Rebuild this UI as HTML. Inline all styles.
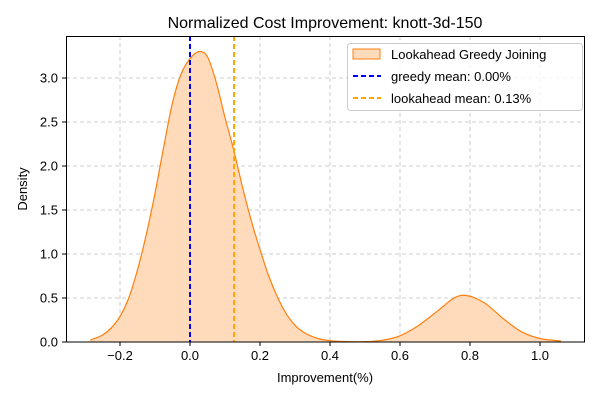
<!DOCTYPE html>
<html><head><meta charset="utf-8"><style>
body{margin:0;background:#fff}
svg text{font-family:"Liberation Sans","DejaVu Sans",sans-serif;fill:#000}
</style></head><body>
<svg id="chart" width="600" height="400" xmlns="http://www.w3.org/2000/svg">
<rect width="600" height="400" fill="#fff"/>
<text x="325" y="28" font-size="16" text-anchor="middle">Normalized Cost Improvement: knott-3d-150</text>
<g id="grid"></g>
<path id="area" fill="#ffdbbc" stroke="none"/>
<path id="line" fill="none" stroke="#ff7f0e" stroke-width="1.2"/>
<g id="vlines"></g>
<rect x="66.5" y="36.5" width="518" height="305.5" fill="none" stroke="#000" stroke-width="1"/>
<g id="ticks"></g>
<text x="325" y="382" font-size="13" text-anchor="middle">Improvement(%)</text>
<text transform="translate(27,189) rotate(-90)" font-size="13" text-anchor="middle">Density</text>
<g>
<rect x="347.5" y="43.5" width="235" height="67" rx="3" fill="#fff" fill-opacity="0.8" stroke="#ccc"/>
<rect x="353" y="49" width="27" height="10" fill="#ffdbbc" stroke="#ff7f0e"/>
<text x="391" y="59" font-size="13">Lookahead Greedy Joining</text>
<line x1="353" y1="76" x2="381" y2="76" stroke="#0000ff" stroke-width="2" stroke-dasharray="5,3"/>
<text x="391" y="81" font-size="13">greedy mean: 0.00%</text>
<line x1="353" y1="98" x2="381" y2="98" stroke="#ffa500" stroke-width="2" stroke-dasharray="5,3"/>
<text x="391" y="103" font-size="13">lookahead mean: 0.13%</text>
</g>
</svg>
<script>
const xs=[-0.285,-0.25,-0.225,-0.2,-0.175,-0.15,-0.125,-0.1,-0.075,-0.05,-0.025,0.0,0.025,0.05,0.075,0.1,0.125,0.15,0.175,0.2,0.225,0.25,0.275,0.3,0.325,0.35,0.375,0.4,0.45,0.5,0.55,0.6,0.65,0.7,0.725,0.75,0.775,0.8,0.825,0.85,0.9,0.95,1.0,1.06];
const density=[0.02,0.08,0.16,0.29,0.5,0.82,1.22,1.69,2.22,2.72,3.05,3.22,3.30,3.24,2.95,2.55,2.18,1.76,1.38,1.05,0.75,0.51,0.32,0.19,0.11,0.06,0.03,0.015,0.004,0.004,0.02,0.07,0.18,0.33,0.41,0.49,0.53,0.52,0.48,0.42,0.25,0.11,0.04,0.01];
const xTicks=[-0.2,0.0,0.2,0.4,0.6,0.8,1.0];
const yTicks=[0.0,0.5,1.0,1.5,2.0,2.5,3.0];
const greedyMean=0.0, lookaheadMean=0.126;
const X=v=>190+v*350, Y=v=>342-v*88;
const NS="http://www.w3.org/2000/svg";
function mk(t,a,p){const e=document.createElementNS(NS,t);for(const k in a)e.setAttribute(k,a[k]);document.getElementById(p).appendChild(e);return e;}
xTicks.forEach(t=>{
 const g=mk('line',{x1:X(t),x2:X(t),y1:36,y2:342,stroke:'#ccc','stroke-dasharray':'4,3'},'grid');
 
 
 mk('line',{x1:X(t),x2:X(t),y1:342,y2:346,stroke:'#000'},'ticks');
 const l=mk('text',{x:X(t),y:360,'font-size':13,'text-anchor':'middle'},'ticks');
 l.textContent=(t<0?'\u2212':'')+Math.abs(t).toFixed(1);
 
 
});
yTicks.forEach(t=>{
 const g=mk('line',{x1:66,x2:585,y1:Y(t),y2:Y(t),stroke:'#ccc','stroke-dasharray':'4,3'},'grid');
 
 
 mk('line',{x1:62,x2:66,y1:Y(t),y2:Y(t),stroke:'#000'},'ticks');
 const l=mk('text',{x:58,y:Y(t)+4.5,'font-size':13,'text-anchor':'end'},'ticks');
 l.textContent=t.toFixed(1);
 
 
});
const P=xs.map((x,i)=>[X(x),Y(density[i])]);
let d='M'+P[0][0]+','+P[0][1];
for(let i=0;i<P.length-1;i++){
 const p0=P[Math.max(0,i-1)],p1=P[i],p2=P[i+1],p3=P[Math.min(P.length-1,i+2)];
 const h=p2[0]-p1[0];
 const m1=(p2[1]-p0[1])/(p2[0]-p0[0]||1), m2=(p3[1]-p1[1])/(p3[0]-p1[0]||1);
 const c1=[p1[0]+h/3,Math.min(p1[1]+m1*h/3,342)], c2=[p2[0]-h/3,Math.min(p2[1]-m2*h/3,342)];
 d+=`C${c1[0]},${c1[1]} ${c2[0]},${c2[1]} ${p2[0]},${p2[1]}`;
}
document.getElementById('line').setAttribute('d',d);
document.getElementById('area').setAttribute('d',d+`L${P[P.length-1][0]},342L${P[0][0]},342Z`);
[[greedyMean,'#0000ff','greedy-mean-line'],[lookaheadMean,'#ffa500','lookahead-mean-line']].forEach(([m,c,n])=>{
 const l=mk('line',{x1:X(m),x2:X(m),y1:36,y2:342,stroke:c,'stroke-width':2,'stroke-dasharray':'5,3'},'vlines');
 
 
});
</script>
</body></html>
